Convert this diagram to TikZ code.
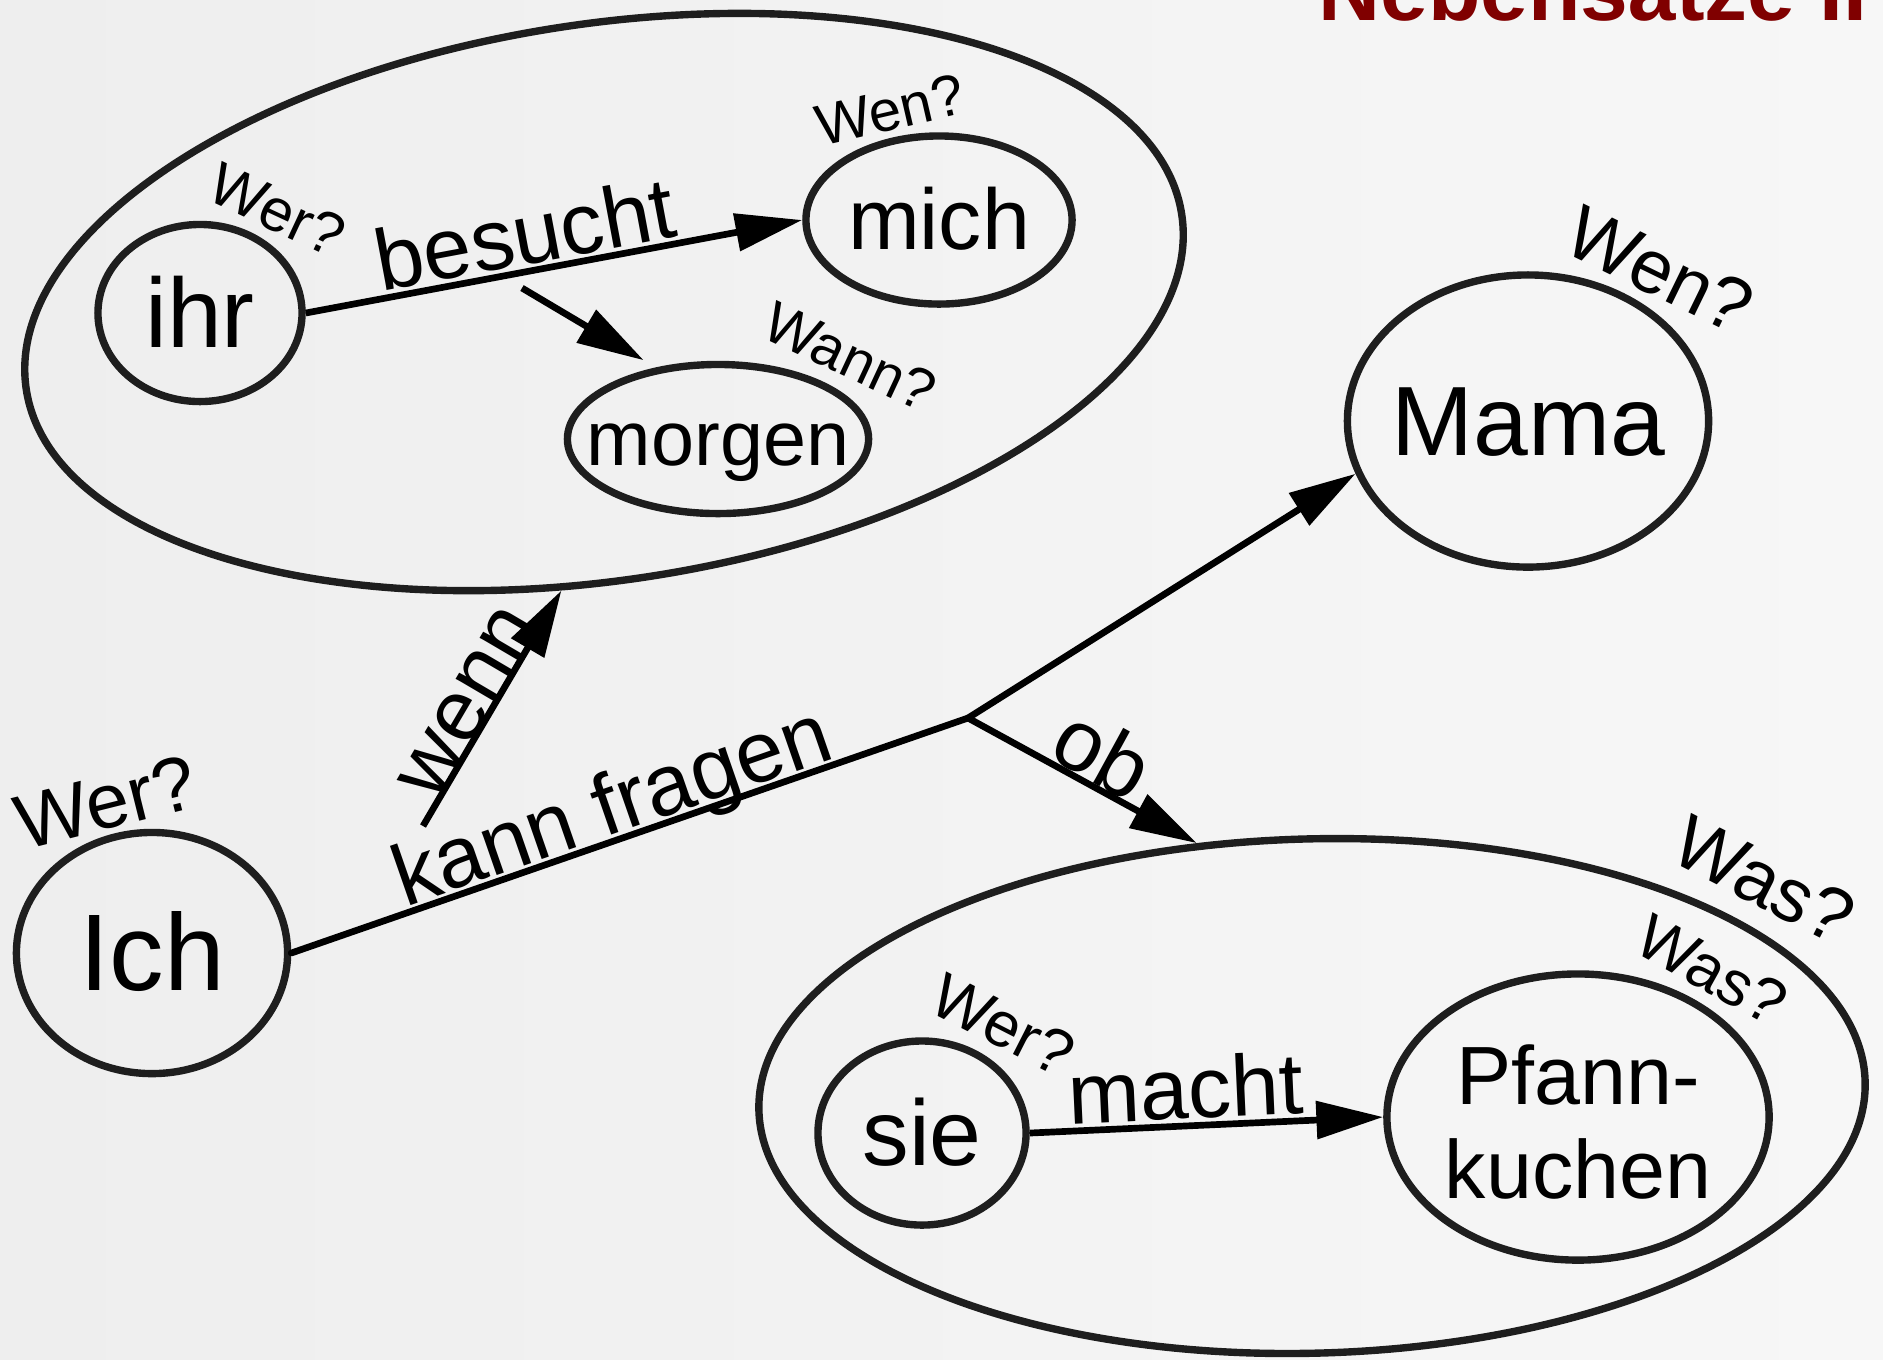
\documentclass[tikz,border=0pt]{standalone}
\usepackage{fontspec}
\setmainfont{Liberation Sans}
\usetikzlibrary{shapes.geometric,arrows.meta}
\definecolor{umriss}{RGB}{30,30,30}
\definecolor{titelrot}{RGB}{128,0,0}
\definecolor{grund1}{RGB}{238,238,238}
\definecolor{grund2}{RGB}{247,247,247}
\newcommand{\gr}[1]{\fontsize{#1}{#1}\selectfont}
\newcommand{\st}{\rule[-0.212em]{0pt}{1.117em}}
\tikzset{
	wort/.style={shape=ellipse,draw=umriss,line width=2.1pt,inner xsep=-10pt,inner ysep=0pt,execute at begin node=\st},
	gruppe/.style={shape=ellipse,draw=umriss,line width=2.1pt,inner sep=0pt},
	frage/.style={inner sep=0pt},
	pfeil/.style={-{Triangle[length=19pt,width=10.5pt]},line width=1.9pt},
	kante/.style={sloped,anchor=base,inner sep=0pt,font=\gr{24.6}}
}

\begin{document}
\begin{tikzpicture}[x=0.01cm,y=-0.01cm]
		\useasboundingbox (0,0) rectangle (1883,1359);
		\shade[left color=grund1,right color=grund2] (0,0) rectangle (1883,1359);
		\node(titel) [anchor=base west,inner sep=0pt,text=titelrot,font=\gr{24.4}\bfseries] at (1318,20) {Nebensätze II};
		% Nebensaetze
		\node(satz1) [gruppe,minimum width=11.68cm,minimum height=5.56cm,rotate=8.6] at (604,302) {};
		\node(satz2) [gruppe,minimum width=11.06cm,minimum height=5.14cm,rotate=1.5] at (1312,1096) {};
		% Woerter
		\node(ihr)    [wort,font=\gr{28},minimum width=2.04cm,minimum height=1.77cm] at (200,313) {ihr};
		\node(mich)   [wort,font=\gr{24.5},minimum width=2.66cm,minimum height=1.68cm] at (939,220) {mich};
		\node(morgen) [wort,font=\gr{22},minimum width=3.01cm,minimum height=1.49cm] at (718,439) {morgen};
		\node(Mama)   [wort,font=\gr{28},minimum width=3.61cm,minimum height=2.92cm] at (1528,421) {Mama};
		\node(Ich)    [wort,font=\gr{31},minimum width=2.71cm,minimum height=2.41cm] at (152,953) {Ich};
		\node(sie)    [wort,font=\gr{26.5},minimum width=2.08cm,minimum height=1.84cm] at (922,1133) {sie};
		\node(Pfann)  [wort,align=center,inner ysep=-6pt,font=\fontsize{23.5}{26.6}\selectfont,minimum width=3.82cm,minimum height=2.86cm] at (1578,1117) {\rule{0pt}{1.04em}Pfann-\\kuchen};
		% Fragen
		\node(fIhr)    [frage,rotate=-25,font=\gr{17}]   at (277,210)   {Wer?};
		\node(fMich)   [frage,rotate=13,font=\gr{16.5}]  at (890,110)   {Wen?};
		\node(fMorgen) [frage,rotate=-25,font=\gr{16.5}] at (850,357)   {Wann?};
		\node(fMama)   [frage,rotate=-26,font=\gr{21.5}] at (1660,270)  {Wen?};
		\node(fIch)    [frage,rotate=14,font=\gr{22}]    at (106,802)   {Wer?};
		\node(fSatz2)  [frage,rotate=-27,font=\gr{21.5}] at (1764,880)  {Was?};
		\node(fPfann)  [frage,rotate=-29,font=\gr{18}]   at (1712,970)  {Was?};
		\node(fSie)    [frage,rotate=-27,font=\gr{18}]   at (1003,1025) {Wer?};
		% Kanten
		\coordinate (abzweig) at (522,288);
		\coordinate (knick) at (968,718);
		\coordinate (wennfuss) at (423,826);
		\draw[pfeil] (ihr.east) -- node[kante,pos=.455] {\raisebox{2pt}{besucht}} (mich.west);
		\draw[pfeil,shorten >=4pt] (abzweig) -- (morgen.131);
		\draw[line width=1.9pt,line cap=round] (Ich.east) -- node[kante,pos=.49] {\raisebox{1.7pt}{kann fragen}} (knick);
		\draw[pfeil,line cap=round] (knick) -- (Mama.197);
		\draw[pfeil,line cap=round] (knick) -- node[kante,pos=.52] {\raisebox{1pt}{ob}} (satz2.113);
		\draw[pfeil] (wennfuss) -- node[kante,pos=.475] {wenn} (satz1.253);
		\draw[pfeil] (sie.east) -- node[kante,pos=.445] {\raisebox{2pt}{macht}} (Pfann.west);
\end{tikzpicture}
\end{document}
